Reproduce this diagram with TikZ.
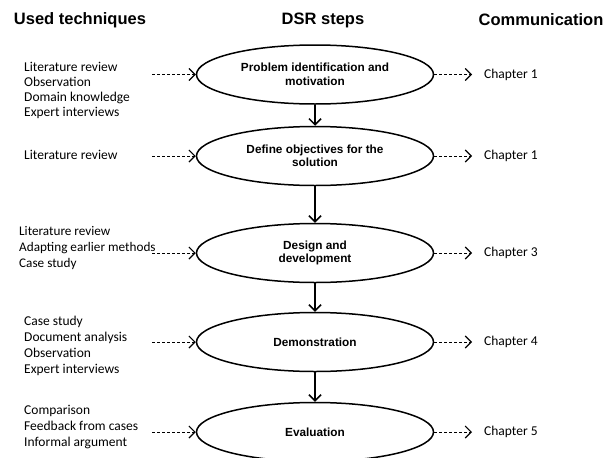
\documentclass[tikz,border=0pt]{standalone}
\usepackage{fontspec}
\setmainfont{Carlito}
\newfontfamily\headfont{Liberation Sans}
\usetikzlibrary{shapes.geometric,arrows.meta}
\begin{document}
\begin{tikzpicture}[x=1pt,y=1pt,
  heading/.style={font=\headfont\bfseries\fontsize{16.5}{19}\selectfont,inner sep=0pt},
  dsr/.style={ellipse,draw,line width=1.5pt,minimum width=237pt,minimum height=59pt,
     align=center,inner sep=0pt,font=\headfont\bfseries\fontsize{11.8}{13.5}\selectfont},
  tech/.style={anchor=west,align=left,inner sep=0pt,font=\fontsize{13.5}{16.2}\selectfont},
  chap/.style={anchor=west,inner sep=0pt,font=\fontsize{13.5}{16}\selectfont},
  feed/.style={dashed,dash pattern=on 3pt off 2pt,line width=0.7pt,-{Straight Barb[length=6pt,width=12pt,line width=1.1pt]}},
  flow/.style={line width=1.5pt,-{Straight Barb[length=6pt,width=12pt,line width=1.5pt]}}
]
\useasboundingbox (0,0) rectangle (608,-458);
\node[heading] (h1) at (80,-20) {Used techniques};
\node[heading] (h2) at (323,-20) {DSR steps};
\node[heading] (h3) at (541,-20) {Communication};

\node[dsr] (s1) at (315,-74.5) {Problem identification and\\motivation};
\node[dsr] (s2) at (315,-156) {Define objectives for the\\solution};
\node[dsr] (s3) at (315,-253) {Design and\\development};
\node[dsr] (s4) at (315,-342) {Demonstration};
\node[dsr] (s5) at (315,-432) {Evaluation};

\node[tech,font=\fontsize{13.5}{15.2}\selectfont] (t1) at (24,-90.5) {Literature review\\Observation\\Domain knowledge\\Expert interviews};
\node[tech] (t2) at (24,-155) {Literature review};
\node[tech,font=\fontsize{13.2}{16.2}\selectfont] (t3) at (19,-248) {Literature review\\Adapting earlier methods\\Case study};
\node[tech] (t4) at (24,-346) {Case study\\Document analysis\\Observation\\Expert interviews};
\node[tech] (t5) at (24,-427) {Comparison\\Feedback from cases\\Informal argument};

\coordinate (a1) at (152,-74.5);
\coordinate (a2) at (152,-156);
\coordinate (a3) at (152,-253);
\coordinate (a4) at (152,-342);
\coordinate (a5) at (152,-432);

\node[chap] (c1) at (484,-74.5) {Chapter 1};
\node[chap] (c2) at (484,-156) {Chapter 1};
\node[chap] (c3) at (484,-253) {Chapter 3};
\node[chap] (c4) at (484,-342) {Chapter 4};
\node[chap] (c5) at (484,-432) {Chapter 5};

\foreach \i in {1,...,5}{
  \draw[feed] (a\i) -- (s\i.west);
  \draw[feed] (s\i.east) -- ([xshift=-12pt]c\i.west);
}
\draw[flow] (s1) -- (s2);
\draw[flow] (s2) -- (s3);
\draw[flow] (s3) -- (s4);
\draw[flow] (s4) -- (s5);
\end{tikzpicture}
\end{document}
